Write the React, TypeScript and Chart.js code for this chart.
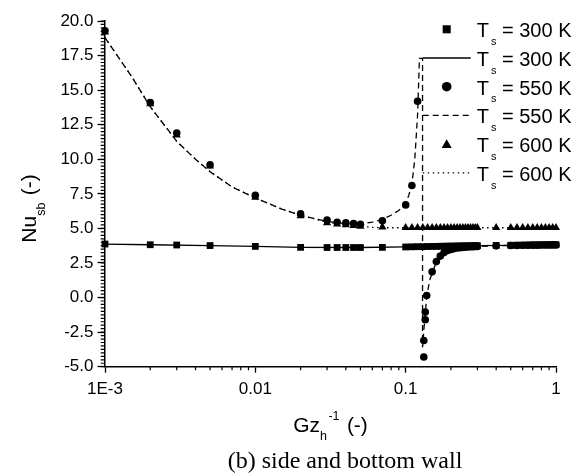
import React, { useEffect, useRef } from 'react';
import { Chart, registerables } from 'chart.js';

Chart.register(...registerables);

// ---------- data ----------
const squareX = [0.001, 0.002, 0.003, 0.005, 0.01, 0.02, 0.03, 0.035, 0.04, 0.045, 0.05, 0.07,
  0.1, 0.11, 0.12, 0.13, 0.14, 0.15, 0.16, 0.17, 0.18, 0.19, 0.2, 0.21, 0.22, 0.23, 0.24, 0.25, 0.26, 0.27, 0.28, 0.29, 0.3,
  0.4, 0.5, 0.55, 0.6, 0.65, 0.7, 0.75, 0.8, 0.85, 0.9, 0.95, 1];
const squareY = [3.87, 3.82, 3.8, 3.76, 3.7, 3.63, 3.62, 3.62, 3.62, 3.62, 3.62, 3.63,
  3.66, 3.67, 3.68, 3.68, 3.69, 3.7, 3.7, 3.71, 3.71, 3.72, 3.72, 3.72, 3.73, 3.73, 3.73, 3.74, 3.74, 3.74, 3.75, 3.75, 3.75,
  3.77, 3.78, 3.79, 3.79, 3.8, 3.8, 3.8, 3.81, 3.81, 3.81, 3.82, 3.82];

const circleX = [0.001, 0.002, 0.003, 0.005, 0.01, 0.02, 0.03, 0.035, 0.04, 0.045, 0.05, 0.07,
  0.1, 0.11, 0.12, 0.132, 0.132, 0.135, 0.135, 0.138, 0.15, 0.16, 0.17, 0.18, 0.19, 0.2, 0.21, 0.22, 0.23, 0.24, 0.25,
  0.26, 0.27, 0.28, 0.29, 0.3, 0.4, 0.5, 0.55, 0.6, 0.65, 0.7, 0.75, 0.8, 0.85, 0.9, 0.95, 1];
const circleY = [19.3, 14.1, 11.9, 9.6, 7.4, 6.05, 5.6, 5.45, 5.4, 5.35, 5.3, 5.55,
  6.7, 8.1, 14.2, -4.3, -3.1, -1.6, -1.05, 0.15, 1.86, 2.6, 3.0, 3.25, 3.4, 3.48, 3.54, 3.58, 3.61, 3.63, 3.65,
  3.66, 3.67, 3.68, 3.69, 3.7, 3.74, 3.76, 3.77, 3.78, 3.78, 3.79, 3.79, 3.8, 3.8, 3.8, 3.81, 3.81];

const triangleX = [0.001, 0.002, 0.003, 0.005, 0.01, 0.02, 0.03, 0.035, 0.04, 0.045, 0.05, 0.07,
  0.1, 0.11, 0.12, 0.13, 0.14, 0.15, 0.16, 0.17, 0.18, 0.19, 0.2, 0.21, 0.22, 0.23, 0.24, 0.25, 0.26, 0.27, 0.28, 0.29, 0.3,
  0.4, 0.5, 0.55, 0.6, 0.65, 0.7, 0.75, 0.8, 0.85, 0.9, 0.95, 1];
const triangleY = [19.2, 14.0, 11.75, 9.5, 7.25, 5.9, 5.4, 5.3, 5.25, 5.2, 5.15, 5.1,
  5.05, 5.05, 5.05, 5.05, 5.05, 5.05, 5.05, 5.05, 5.05, 5.05, 5.05, 5.05, 5.05, 5.05, 5.05, 5.05, 5.05, 5.05, 5.05, 5.05, 5.05,
  5.05, 5.05, 5.05, 5.05, 5.05, 5.05, 5.05, 5.05, 5.05, 5.05, 5.05, 5.05];

const line300X = [0.001, 0.002, 0.005, 0.01, 0.02, 0.05, 0.1, 0.2, 0.3, 0.5, 1];
const line300Y = [3.87, 3.82, 3.76, 3.7, 3.63, 3.62, 3.66, 3.72, 3.75, 3.78, 3.82];

const line550X = [0.001, 0.0015, 0.002, 0.003, 0.004, 0.005, 0.007, 0.01, 0.015, 0.02, 0.03, 0.04, 0.05, 0.06, 0.07,
  0.08, 0.09, 0.1, 0.105, 0.11, 0.115, 0.12, 0.1235, 0.1295, 0.1295, 0.132, 0.135, 0.138, 0.145, 0.15, 0.16, 0.18, 0.2,
  0.25, 0.3, 0.5, 1];
const line550Y = [18.8, 16.0, 13.8, 11.3, 10.0, 9.1, 8.0, 7.2, 6.4, 5.95, 5.5, 5.35, 5.35, 5.45, 5.65,
  5.95, 6.3, 6.85, 7.4, 8.2, 10.0, 13.2, 17.3, 17.3, -3.6, -2.4, -1.2, 0.1, 1.3, 1.8, 2.55, 3.2, 3.45,
  3.62, 3.7, 3.77, 3.82];

const line600X = [0.001, 0.0015, 0.002, 0.003, 0.004, 0.005, 0.007, 0.01, 0.015, 0.02, 0.03, 0.04, 0.05, 0.06, 0.07,
  0.1, 0.2, 0.5, 1];
const line600Y = [18.8, 16.0, 13.8, 11.3, 10.0, 9.1, 8.0, 7.2, 6.4, 5.95, 5.45, 5.25, 5.15, 5.08, 5.05,
  5.05, 5.05, 5.05, 5.05];

const xMajorTicks = [0.001, 0.01, 0.1, 1];
const xTickLabels = ['1E-3', '0.01', '0.1', '1'];
const xMinorMultipliers = [2, 3, 4, 5, 6, 7, 8, 9];
const yMin = -5;
const yMax = 20;
const yMajorStep = 2.5;
const yMinorStep = 0.25;

const legendTemps = ['300 K', '300 K', '550 K', '550 K', '600 K', '600 K'];
const legendKinds = ['rect', 'solid', 'circle', 'dashed', 'triangle', 'dotted'];

const xTitle = [{ t: 'Gz', s: 21, dy: 0 }, { t: 'h', s: 12.5, dy: 8 }, { t: '-1', s: 12.5, dy: -12 }, { t: ' (-)', s: 21, dy: 0 }];
const yTitle = [{ t: 'Nu', s: 21, dy: 0 }, { t: 'sb', s: 12.5, dy: 9 }, { t: ' (-)', s: 21, dy: 0 }];
const caption = '(b) side and bottom wall';

// ---------- styles ----------
const SANS = '"Liberation Sans", Arial, Helvetica, sans-serif';
const SERIF = '"Liberation Serif", "Times New Roman", Times, serif';
const DASHED = [6, 4];
const DOTTED = [1.5, 3.5];

function zip(xs: number[], ys: number[]) {
  return xs.map((x, i) => ({ x, y: ys[i] }));
}

function marker(ctx: CanvasRenderingContext2D, kind: string, x: number, y: number, r: number) {
  ctx.beginPath();
  if (kind === 'rect') {
    const h = r * Math.SQRT1_2;
    ctx.rect(x - h, y - h, 2 * h, 2 * h);
  } else if (kind === 'circle') {
    ctx.arc(x, y, r, 0, Math.PI * 2);
  } else {
    ctx.moveTo(x, y - r);
    ctx.lineTo(x + r * Math.sin((2 * Math.PI) / 3), y - r * Math.cos((2 * Math.PI) / 3));
    ctx.lineTo(x + r * Math.sin((4 * Math.PI) / 3), y - r * Math.cos((4 * Math.PI) / 3));
    ctx.closePath();
  }
  ctx.fill();
}

function drawParts(ctx: CanvasRenderingContext2D, parts: { t: string; s: number; dy: number }[], cx: number, base: number) {
  let total = 0;
  const widths = parts.map((p) => {
    ctx.font = `${p.s}px ${SANS}`;
    const w = ctx.measureText(p.t).width + (p.s < 20 ? 1.5 : 0);
    total += w;
    return w;
  });
  let x = cx - total / 2;
  ctx.textAlign = 'left';
  ctx.textBaseline = 'alphabetic';
  parts.forEach((p, i) => {
    ctx.font = `${p.s}px ${SANS}`;
    ctx.fillText(p.t, x, base + p.dy);
    x += widths[i];
  });
}

const decorPlugin = {
  id: 'decor',
  afterDraw(chart: any) {
    const { ctx, chartArea, scales } = chart;
    const xs = scales.x;
    const ys = scales.y;
    ctx.save();
    ctx.strokeStyle = '#000';
    ctx.fillStyle = '#000';
    ctx.lineWidth = 1.2;
    ctx.setLineDash([]);
    // minor ticks
    ctx.beginPath();
    for (let d = 0; d < xMajorTicks.length - 1; d++) {
      for (const m of xMinorMultipliers) {
        const px = xs.getPixelForValue(xMajorTicks[d] * m);
        ctx.moveTo(px, chartArea.bottom);
        ctx.lineTo(px, chartArea.bottom + 3.5);
      }
    }
    const nMinor = Math.round((yMax - yMin) / yMinorStep);
    for (let i = 0; i <= nMinor; i++) {
      const py = ys.getPixelForValue(yMin + i * yMinorStep);
      ctx.moveTo(chartArea.left, py);
      ctx.lineTo(chartArea.left - 4.3, py);
    }
    ctx.stroke();

    // legend
    const lx0 = 422.7, lx1 = 470.7, mx = 446.7, tx = 476.7;
    legendKinds.forEach((kind, i) => {
      const cy = 29.3 + 28.7 * i;
      const base = 37.3 + 28.7 * i;
      if (kind === 'rect') marker(ctx, 'rect', mx, cy, 5.7);
      else if (kind === 'circle') marker(ctx, 'circle', mx, cy, 4.8);
      else if (kind === 'triangle') marker(ctx, 'triangle', mx, cy + 1, 5.8);
      else {
        ctx.lineWidth = 1.3;
        ctx.setLineDash(kind === 'dashed' ? DASHED : kind === 'dotted' ? DOTTED : []);
        ctx.beginPath();
        ctx.moveTo(lx0, cy);
        ctx.lineTo(lx1, cy);
        ctx.stroke();
        ctx.setLineDash([]);
      }
      ctx.textAlign = 'left';
      ctx.textBaseline = 'alphabetic';
      ctx.font = `20px ${SANS}`;
      ctx.fillText('T', tx, base);
      let x = tx + ctx.measureText('T').width + 2;
      ctx.font = `11px ${SANS}`;
      ctx.fillText('s', x, base + 7.7);
      x += ctx.measureText('s').width;
      ctx.font = `20px ${SANS}`;
      ctx.fillText(' = ' + legendTemps[i], x, base);
    });

    // axis titles
    drawParts(ctx, xTitle, (chartArea.left + chartArea.right) / 2, 431.7);
    ctx.save();
    ctx.translate(36, 208.5);
    ctx.rotate(-Math.PI / 2);
    drawParts(ctx, yTitle, 0, 0);
    ctx.restore();

    // caption
    ctx.font = `24px ${SERIF}`;
    ctx.textAlign = 'center';
    ctx.fillText(caption, 345, 467.7);
    ctx.restore();
  },
};

export default function App() {
  const ref = useRef<HTMLCanvasElement | null>(null);

  useEffect(() => {
    if (!ref.current) return;
    const pt = (style: string, r: number) => ({
      showLine: false,
      pointStyle: style,
      pointRadius: r,
      pointBackgroundColor: '#000',
      pointBorderColor: '#000',
      pointBorderWidth: 0,
      clip: false as any,
    });
    const ln = (dash: number[]) => ({
      showLine: true,
      pointRadius: 0,
      borderColor: '#000',
      borderWidth: 1.3,
      borderDash: dash,
      tension: 0,
      clip: false as any,
    });
    const chart = new Chart(ref.current, {
      type: 'scatter',
      data: {
        datasets: [
          { label: 'Ts = 300 K (points)', data: zip(squareX, squareY), ...pt('rect', 4.8) },
          { label: 'Ts = 300 K', data: zip(line300X, line300Y), ...ln([]) },
          { label: 'Ts = 550 K (points)', data: zip(circleX, circleY), ...pt('circle', 3.8) },
          { label: 'Ts = 550 K', data: zip(line550X, line550Y), ...ln(DASHED) },
          { label: 'Ts = 600 K (points)', data: zip(triangleX, triangleY), ...pt('triangle', 4.7) },
          { label: 'Ts = 600 K', data: zip(line600X, line600Y), ...ln(DOTTED) },
        ] as any,
      },
      options: {
        animation: false,
        responsive: true,
        maintainAspectRatio: false,
        layout: { padding: { top: 21, right: 27, left: 0, bottom: 0 } },
        plugins: { legend: { display: false }, tooltip: { enabled: false } },
        scales: {
          x: {
            type: 'logarithmic',
            min: xMajorTicks[0],
            max: xMajorTicks[xMajorTicks.length - 1],
            afterBuildTicks: (s: any) => {
              s.ticks = xMajorTicks.map((v) => ({ value: v }));
            },
            afterFit: (s: any) => {
              s.height = 106.3;
            },
            ticks: {
              autoSkip: false,
              maxRotation: 0,
              color: '#000',
              padding: 6,
              font: { family: SANS, size: 17 },
              callback: (v: any) => {
                const i = xMajorTicks.findIndex((t) => Math.abs(t - Number(v)) < 1e-9);
                return i >= 0 ? xTickLabels[i] : '';
              },
            },
            grid: { drawOnChartArea: false, drawTicks: true, tickLength: 6, tickColor: '#000', tickWidth: 1.3 },
            border: { display: true, color: '#000', width: 1.5 },
          },
          y: {
            type: 'linear',
            min: yMin,
            max: yMax,
            afterFit: (s: any) => {
              s.width = 105;
            },
            ticks: {
              stepSize: yMajorStep,
              color: '#000',
              padding: 4,
              font: { family: SANS, size: 17 },
              callback: (v: any) => Number(v).toFixed(1),
            },
            grid: { drawOnChartArea: false, drawTicks: true, tickLength: 7.5, tickColor: '#000', tickWidth: 1.3 },
            border: { display: true, color: '#000', width: 1.5 },
          },
        },
      } as any,
      plugins: [decorPlugin],
    });
    return () => chart.destroy();
  }, []);

  return (
    <div style={{ position: 'absolute', left: 0, top: 0, width: 583, height: 473, background: '#fff' }}>
      <canvas ref={ref} style={{ display: 'block' }} />
    </div>
  );
}
